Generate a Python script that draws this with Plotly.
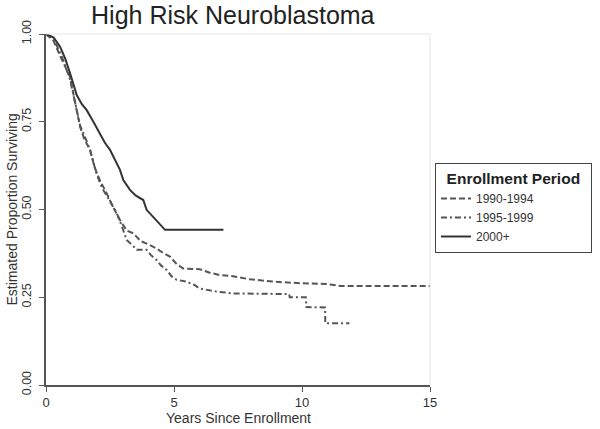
import plotly.graph_objects as go

# 1990-1994 (dashed)
x_9094 = [0, 0.3, 0.6, 0.94, 1.15, 1.33, 1.5, 1.72, 1.9, 2.1, 2.37, 2.6, 2.89, 3.15, 3.41, 3.7, 3.93,
          4.32, 4.6, 4.84, 5.1, 5.36, 6.0, 6.4, 6.8, 7.3, 7.97, 9.0, 9.92, 10.96, 11.5, 15]
y_9094 = [1.0, 0.98, 0.93, 0.878, 0.80, 0.736, 0.70, 0.67, 0.62, 0.584, 0.546, 0.51, 0.47, 0.44, 0.432,
          0.41, 0.403, 0.389, 0.375, 0.366, 0.345, 0.332, 0.330, 0.32, 0.313, 0.31, 0.301, 0.294, 0.29,
          0.288, 0.282, 0.282]

# 1995-1999 (dash-dot)
x_9599 = [0, 0.3, 0.6, 0.94, 1.15, 1.33, 1.5, 1.72, 1.98, 2.2, 2.45, 2.76, 2.95, 3.15, 3.35, 3.54, 3.93,
          4.1, 4.32, 4.5, 4.71, 4.9, 5.1, 5.5, 5.8, 6.0, 6.67, 7.3, 9.5, 9.52, 10.15, 10.17, 10.9, 10.91, 11.85]
y_9599 = [1.0, 0.985, 0.94, 0.87, 0.80, 0.74, 0.71, 0.67, 0.60, 0.56, 0.53, 0.49, 0.455, 0.413, 0.40,
          0.385, 0.385, 0.37, 0.356, 0.34, 0.328, 0.31, 0.30, 0.294, 0.285, 0.275, 0.266, 0.261, 0.259,
          0.25, 0.25, 0.222, 0.221, 0.176, 0.176]

# 2000+ (solid)
x_2000 = [0, 0.3, 0.55, 0.75, 0.94, 1.2, 1.4, 1.59, 1.85, 2.1, 2.3, 2.5, 2.7, 2.89, 3.02, 3.28, 3.5, 3.8,
          3.93, 4.1, 4.32, 4.5, 4.65, 6.93]
y_2000 = [1.0, 0.99, 0.964, 0.93, 0.888, 0.826, 0.80, 0.783, 0.75, 0.717, 0.69, 0.67, 0.64, 0.613, 0.584,
          0.556, 0.54, 0.527, 0.499, 0.485, 0.47, 0.455, 0.442, 0.442]

x_ticks = [0, 5, 10, 15]
y_ticks = [0, 0.25, 0.5, 0.75, 1.0]
y_labels = ["0.00", "0.25", "0.50", "0.75", "1.00"]

FONT = "Liberation Sans, Arial, sans-serif"

fig = go.Figure()
fig.add_trace(go.Scatter(x=x_9094, y=y_9094, mode="lines", name="1990-1994",
                         line=dict(color="#555555", width=2, dash="6px,3px")))
fig.add_trace(go.Scatter(x=x_9599, y=y_9599, mode="lines", name="1995-1999",
                         line=dict(color="#555555", width=2, dash="6px,3px,2px,3px")))
fig.add_trace(go.Scatter(x=x_2000, y=y_2000, mode="lines", name="2000+",
                         line=dict(color="#333333", width=2)))

# light frame top/right
fig.add_shape(type="line", xref="paper", yref="paper", x0=0, x1=1, y0=1, y1=1,
              line=dict(color="#e6e6e6", width=1))
fig.add_shape(type="line", xref="paper", yref="paper", x0=1, x1=1, y0=0, y1=1,
              line=dict(color="#e6e6e6", width=1))

# axis titles
fig.add_annotation(text="Estimated Proportion Surviving", xref="paper", yref="paper",
                   x=0, y=0.5, xshift=-35, xanchor="center", yanchor="middle", textangle=-90,
                   showarrow=False, font=dict(size=14, color="#333333", family=FONT))
fig.add_annotation(text="Years Since Enrollment", xref="paper", yref="paper",
                   x=0.5, y=0, yshift=-33, xanchor="center", yanchor="middle",
                   showarrow=False, font=dict(size=14, color="#333333", family=FONT))

fig.update_layout(
    width=600, height=429,
    margin=dict(l=46, r=170, t=34, b=44, autoexpand=False),
    paper_bgcolor="white", plot_bgcolor="white",
    font=dict(family=FONT, color="#222222"),
    title=dict(text="High Risk Neuroblastoma", x=0.388, xanchor="center", xref="container",
               y=0.985, yanchor="top", yref="container",
               font=dict(size=25, family=FONT, color="#222222")),
    xaxis=dict(range=[0, 15], tickvals=x_ticks, showgrid=False, zeroline=False, automargin=False,
               showline=True, linecolor="#555555", linewidth=1.5,
               ticks="outside", ticklen=5, tickcolor="#555555",
               tickfont=dict(size=13, color="#333333")),
    yaxis=dict(range=[0, 1], tickvals=y_ticks, ticktext=y_labels, tickangle=-90,
               showgrid=False, zeroline=False, automargin=False,
               showline=True, linecolor="#555555", linewidth=1.5,
               ticks="outside", ticklen=5, tickcolor="#555555", ticklabelstandoff=3,
               tickfont=dict(size=12.5, color="#333333")),
    legend=dict(x=1.013, y=0.633, xanchor="left", yanchor="top",
                bordercolor="#444444", borderwidth=1,
                title=dict(text="&nbsp;&nbsp;<b>Enrollment Period</b>&nbsp;&nbsp;",
                           font=dict(size=15.5, color="#222222")),
                font=dict(size=12, color="#333333")),
    showlegend=True,
)

fig.write_html("out.html", post_script="document.body.style.margin='0';",
               config={"displayModeBar": False})
